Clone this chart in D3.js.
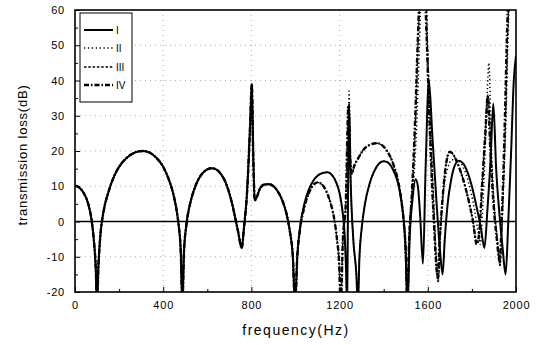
<!DOCTYPE html>
<html>
<head>
<meta charset="utf-8">
<script src="https://cdn.jsdelivr.net/npm/d3@7"></script>
<style>
  html, body { margin: 0; padding: 0; background: #fff; }
  svg { display: block; font-family: "Liberation Sans", Arial, sans-serif; }
</style>
</head>
<body>
<svg id="chart" width="536" height="345"></svg>
<script>
// ---------------- data ----------------
const xTicks = [0, 400, 800, 1200, 1600, 2000];
const yTicks = [-20, -10, 0, 10, 20, 30, 40, 50, 60];
const seriesNames = ["I", "II", "III", "IV"];

// shared low-frequency part (all four curves coincide below ~1000 Hz)
const commonLow = [
  [0,10.2],[20,9.6],[40,8],[60,5],[75,0.5],[85,-5],[94,-13],[100,-24],[106,-13],[115,-4],
  [130,3],[150,8],[175,12.5],[200,15.5],[230,17.8],[260,19.2],[290,19.9],[310,20],[340,19.5],
  [370,18],[400,15.5],[425,12],[445,8],[460,3.5],[470,-1],[480,-9],[487,-24],[494,-9],[505,-1],
  [520,4.5],[540,9],[560,12],[580,13.8],[600,14.8],[620,15.1],[640,14.8],[660,13.6],[680,11.5],
  [700,8],[720,3],[740,-3],[756,-7.5],[766,-2],[780,8],[794,27],[802,39],[808,20],[815,6],
  [825,7],[840,9.5],[860,10.5],[880,10.6],[900,10],[920,8.5],[940,6],[960,2],[975,-3],
  [988,-10],[998,-24]
];

const seriesI = commonLow.concat([
  [1008,-10],[1020,-2],[1040,5],[1060,9],[1080,11.5],[1100,13],[1125,13.8],[1145,14],
  [1165,13.2],[1185,11],[1200,8],[1212,3.5],[1222,-3],[1229,-13],[1234,-24],[1238,5],
  [1243,33.5],[1250,12],[1262,-5],[1276,-15],[1283,-24],[1290,-10],[1300,-2],[1315,5],
  [1335,10.5],[1355,14],[1380,16.5],[1400,17.1],[1420,16.7],[1440,15],[1460,12],[1475,8],
  [1488,2],[1498,-6],[1508,-24],[1518,-4],[1530,6],[1545,12],[1555,10],[1565,2],[1578,-12],
  [1590,15],[1605,40],[1620,25],[1640,5],[1655,-8],[1667,-15],[1677,-5],[1690,5],[1705,11.5],
  [1720,15.5],[1740,17.2],[1760,16.5],[1780,14],[1800,10],[1820,4.5],[1840,-1.5],[1857,-7.5],
  [1870,3],[1885,18],[1897,33.5],[1910,15],[1925,2],[1940,-8],[1953,-15],[1965,0],[1978,20],
  [1990,40],[2000,47]
]);

const seriesII = commonLow.concat([
  [1008,-10],[1020,-2],[1040,5],[1060,9],[1080,11.5],[1100,13],[1125,13.8],[1145,14],
  [1165,13.2],[1185,11],[1200,8],[1212,3.5],[1222,-3],[1229,-13],[1234,-24],[1238,6],
  [1243,37],[1250,12],[1262,-5],[1276,-15],[1283,-24],[1290,-10],[1300,-2],[1315,5],
  [1335,10.5],[1355,14],[1380,16.5],[1400,17.1],[1420,16.7],[1440,15],[1460,12],[1475,8],
  [1488,2],[1498,-6],[1508,-24],[1518,-3],[1532,8],[1548,25],[1562,50],[1572,66],[1588,66],
  [1600,40],[1614,15],[1630,-3],[1645,-17],[1655,-5],[1670,8],[1690,15],[1710,17.5],
  [1735,17.5],[1760,15.5],[1785,11],[1810,4],[1828,-3],[1838,-6.5],[1850,5],[1865,28],
  [1877,45],[1888,22],[1903,3],[1917,-6],[1927,-12.5],[1940,5],[1955,30],[1965,55],
  [1975,66],[2000,66]
]);

const seriesIII = commonLow.concat([
  [1008,-10],[1020,-2.5],[1040,4],[1060,8],[1080,10.3],[1100,11.1],[1120,10.5],[1140,8.5],
  [1160,5],[1175,1],[1188,-5],[1198,-12],[1205,-24],[1215,-5],[1228,5],[1240,32],[1248,18],
  [1256,13.5],[1265,15.5],[1285,18],[1310,20.5],[1340,21.8],[1370,22.2],[1395,21.5],
  [1420,19.5],[1445,16],[1465,11.5],[1480,6],[1492,-1],[1501,-10],[1507,-24],[1515,-5],
  [1530,10],[1545,30],[1558,55],[1568,66],[1590,66],[1600,48],[1610,30],[1620,15],[1630,1],
  [1640,-12],[1648,-17],[1656,-5],[1666,5],[1680,15],[1700,19.8],[1715,19],[1735,16.5],
  [1760,12],[1785,6],[1805,0],[1822,-6],[1832,-4],[1846,10],[1860,25],[1873,36],[1885,20],
  [1900,5],[1915,-5],[1927,-12.5],[1940,5],[1953,30],[1963,55],[1972,66],[2000,66]
]);

const seriesIV = commonLow.concat([
  [1008,-10],[1020,-2.5],[1040,4],[1060,8],[1080,10.3],[1100,11.1],[1120,10.5],[1140,8.5],
  [1160,5],[1175,1],[1188,-5],[1198,-12],[1205,-24],[1215,-5],[1228,5],[1240,33],[1248,18],
  [1256,13.5],[1265,15.5],[1285,18],[1310,20.5],[1340,21.8],[1370,22.2],[1395,21.5],
  [1420,19.5],[1445,16],[1465,11.5],[1480,6],[1492,-1],[1501,-10],[1507,-24],[1515,-6],
  [1528,8],[1542,28],[1555,52],[1565,66],[1585,66],[1596,50],[1606,32],[1616,16],[1626,2],
  [1636,-10],[1645,-16],[1654,-5],[1665,5],[1680,15],[1700,19.8],[1715,19],[1735,16.5],
  [1760,12],[1785,6],[1805,0],[1822,-6.5],[1832,-4],[1846,10],[1860,24],[1872,35.5],[1884,20],
  [1898,5],[1913,-5],[1925,-11],[1938,5],[1950,30],[1960,55],[1968,66],[2000,66]
]);

const allSeries = [seriesI, seriesII, seriesIII, seriesIV];

// ---------------- layout ----------------
const svg = d3.select("#chart");
const m = { left: 75, top: 10, right: 516, bottom: 292 };

const x = d3.scaleLinear().domain([0, 2000]).range([m.left, m.right]);
const y = d3.scaleLinear().domain([-20, 60]).range([m.bottom, m.top]);

svg.append("defs").append("clipPath").attr("id", "clip")
  .append("rect").attr("x", m.left).attr("y", m.top)
  .attr("width", m.right - m.left).attr("height", m.bottom - m.top);

// grid
const grid = svg.append("g").attr("stroke", "#999").attr("stroke-width", 0.8)
  .attr("stroke-dasharray", "1,4");
grid.selectAll("line.v").data([400, 800, 1200, 1600]).join("line")
  .attr("x1", d => x(d)).attr("x2", d => x(d)).attr("y1", m.top).attr("y2", m.bottom);
grid.selectAll("line.h").data([-10, 10, 20, 30, 40, 50]).join("line")
  .attr("y1", d => y(d)).attr("y2", d => y(d)).attr("x1", m.left).attr("x2", m.right);

// zero line
svg.append("line").attr("x1", m.left).attr("x2", m.right)
  .attr("y1", y(0)).attr("y2", y(0)).attr("stroke", "#000").attr("stroke-width", 1.5);

// curves
const styles = [
  { dash: null, w: 2 },
  { dash: "1.3,2.6", w: 1.5 },
  { dash: "2.5,1.8", w: 1.4 },
  { dash: "5,2,1.5,2", w: 2.4 }
];
const line = d3.line().x(d => x(d[0])).y(d => y(d[1])).curve(d3.curveMonotoneX);
const plot = svg.append("g").attr("clip-path", "url(#clip)");
// draw in reverse so the solid line is on top
[3, 2, 1, 0].forEach(i => {
  plot.append("path").datum(allSeries[i])
    .attr("d", line).attr("fill", "none").attr("stroke", "#000")
    .attr("stroke-width", styles[i].w)
    .attr("stroke-dasharray", styles[i].dash)
    .attr("stroke-linejoin", "round");
});

// axes
const xAxis = d3.axisBottom(x).tickValues(d3.range(0, 2001, 200)).tickSize(-5).tickPadding(9)
  .tickFormat(d => xTicks.includes(d) ? d : "");
const gx = svg.append("g").attr("transform", `translate(0,${m.bottom})`).call(xAxis);
gx.selectAll(".tick line").attr("y2", d => xTicks.includes(d) ? -5 : -3);

const yAxis = d3.axisLeft(y).tickValues(d3.range(-20, 61, 5)).tickSize(-5).tickPadding(10)
  .tickFormat(d => yTicks.includes(d) ? d : "");
const gy = svg.append("g").attr("transform", `translate(${m.left},0)`).call(yAxis);
gy.selectAll(".tick line").attr("x2", d => yTicks.includes(d) ? 5 : 3);

[gx, gy].forEach(g => {
  g.select(".domain").remove();
  g.selectAll(".tick line").attr("stroke", "#000").attr("stroke-width", 1);
  g.selectAll(".tick text").attr("font-size", 11).attr("fill", "#000")
    .attr("font-family", "'Liberation Sans', Arial, sans-serif")
    .style("letter-spacing", "0.8px");
});

// frame
svg.append("rect").attr("x", m.left).attr("y", m.top)
  .attr("width", m.right - m.left).attr("height", m.bottom - m.top)
  .attr("fill", "none").attr("stroke", "#000").attr("stroke-width", 1.6);

// axis titles
svg.append("text").attr("x", 296).attr("y", 335).attr("text-anchor", "middle")
  .attr("font-size", 14).style("letter-spacing", "1.5px").text("frequency(Hz)");
svg.append("text").attr("transform", "translate(27,155) rotate(-90)")
  .attr("text-anchor", "middle").attr("font-size", 13).style("letter-spacing", "0.8px")
  .text("transmission loss(dB)");

// legend
const lg = svg.append("g");
lg.append("rect").attr("x", 80).attr("y", 13).attr("width", 52).attr("height", 89)
  .attr("fill", "#fff").attr("stroke", "#000").attr("stroke-width", 1);
const legendY = [30, 48, 67, 85];
seriesNames.forEach((name, i) => {
  lg.append("line").attr("x1", 84).attr("x2", 113)
    .attr("y1", legendY[i]).attr("y2", legendY[i])
    .attr("stroke", "#000").attr("stroke-width", styles[i].w)
    .attr("stroke-dasharray", styles[i].dash);
  lg.append("text").attr("x", 116).attr("y", legendY[i] + 3.5)
    .attr("font-size", 10).text(name);
});
</script>
</body>
</html>
